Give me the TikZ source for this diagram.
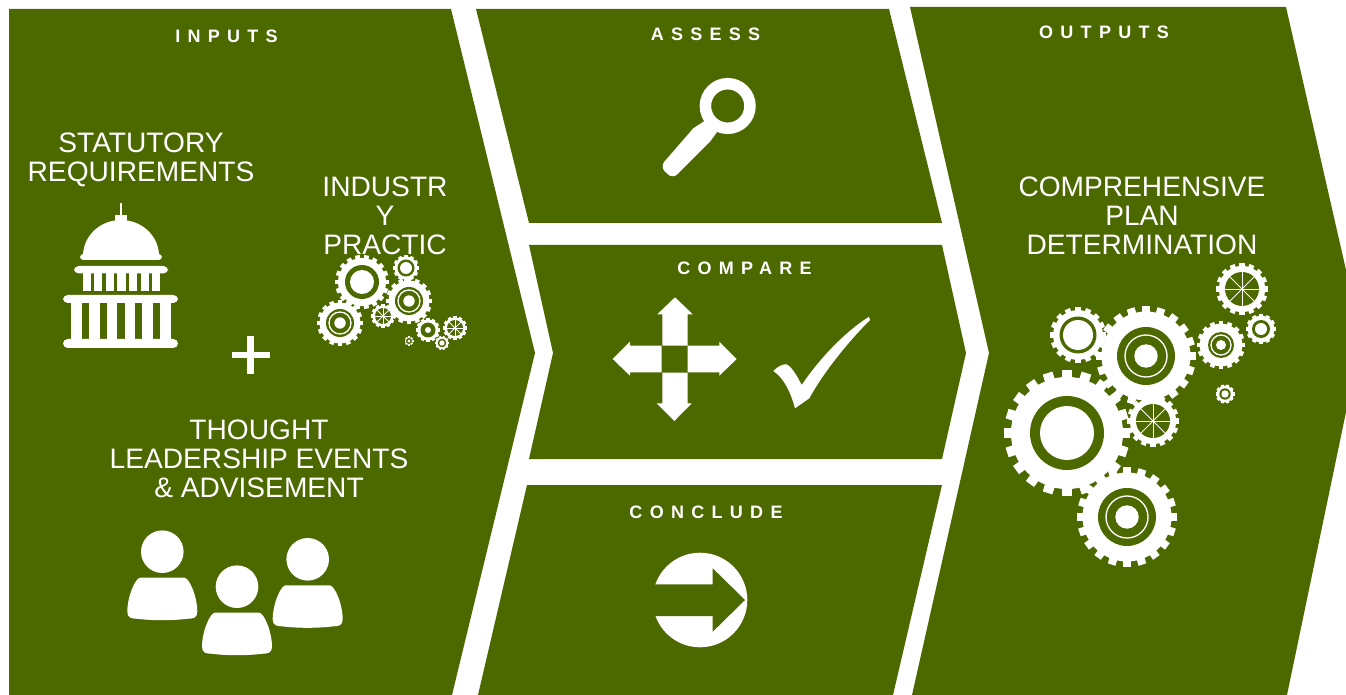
\documentclass[tikz,border=0pt]{standalone}
\usepackage{fontspec}
\setmainfont{Liberation Sans}
\newfontfamily\titlefont[LetterSpace=40.5]{Liberation Sans}
\definecolor{panelgreen}{HTML}{4C6900}
\tikzset{
  panel/.style={fill=panelgreen},
  icon/.style={fill=white},
  hole/.style={fill=panelgreen},
  heading/.style={text=white,inner sep=0pt,font=\titlefont\bfseries\fontsize{13.5}{16}\selectfont},
  bodytext/.style={text=white,inner sep=0pt,align=center,font=\fontsize{21.1}{21.75}\selectfont},
}
\begin{document}
\begin{tikzpicture}[x=0.75pt,y=-0.75pt]
\useasboundingbox (0,0) rectangle (1346,695);
\fill[panel] (9,9) -- (451,9) -- (535,353) -- (452,695) -- (9,695) -- cycle;
\fill[panel] (476,9) -- (889,9) -- (942,223) -- (529,223) -- cycle;
\fill[panel] (529,245) -- (942,245) -- (966,353) -- (942,459) -- (529,459) -- (553,353) -- cycle;
\fill[panel] (527,485) -- (942,485) -- (893,695) -- (478,695) -- cycle;
\fill[panel] (910,7) -- (1286,7) -- (1346,270) -- (1346,412) -- (1287,695) -- (912,695) -- (989,353) -- cycle;

\node[heading] (inputs) at (226.5,36) {INPUTS};
\node[heading] (assess) at (705.5,34) {ASSESS};
\node[heading] (compare) at (744.5,268) {COMPARE};
\node[heading] (conclude) at (706,512) {CONCLUDE};
\node[heading] (outputs) at (1104,32) {OUTPUTS};
\node[bodytext] (statutory) at (141,160) {STATUTORY\\REQUIREMENTS};
\node[bodytext] (industry) at (385,215.5) {INDUSTR\\Y\\PRACTIC};
\node[bodytext] (thought) at (259,459) {THOUGHT\\LEADERSHIP EVENTS\\\& ADVISEMENT};
\node[bodytext] (plan) at (1142,215.5) {COMPREHENSIVE\\PLAN\\DETERMINATION};

\foreach \gx/\gy/\rout/\nteeth/\rhole in {
  1067/433/63/20/37, 1146/356/50/20/29, 1078/335/28/16/18.5, 1153/421/26/16/17,
  1127/517/50/20/29, 1242/289/26/16/17, 1221/345/24/16/13, 1261/329/15/12/9, 1225/394/9.5/10/5.7,
  362/282/27/18/17, 406/268/13/12/8.5, 409/301/23/16/14, 340/323/23/16/14, 383/316/12/12/8,
  428/330/12/12/7.5, 455/328/12/12/8, 442/343/7/10/4.3, 409/341/4.5/8/3}
{
  \pgfmathsetmacro\toothw{\rout*1.6/\nteeth}
  \fill[icon] (\gx,\gy) circle [radius=\rout*0.89];
  \foreach \i in {1,...,\nteeth}
    \fill[icon,shift={(\gx,\gy)},rotate=\i*360/\nteeth] (\rout*0.8,-\toothw) rectangle (\rout,\toothw);
  \fill[hole] (\gx,\gy) circle [radius=\rhole];
}
\foreach \gx/\gy/\rring in {1146/356/21, 1127/517/21, 1221/345/10, 409/301/11, 340/323/11}
  \draw[white,line width=1pt] (\gx,\gy) circle [radius=\rring];
\foreach \gx/\gy/\rmid in {1067/433/27, 1146/356/11.7, 1078/335/15, 1127/517/11.7, 1221/345/5, 1261/329/6, 1225/394/3.7,
  362/282/12, 406/268/6, 409/301/5.7, 340/323/5.7, 428/330/3, 442/343/2.7, 409/341/1.7}
  \fill[icon] (\gx,\gy) circle [radius=\rmid];
\foreach \gx/\gy/\rhole in {1153/421/17, 1242/289/17, 383/316/8, 455/328/8}
  \foreach \a in {0,45,...,315}
    \draw[white,line width=0.7pt] (\gx,\gy) -- ++(\a:\rhole);

\fill[icon] (119.8,203) rectangle (121.8,216);
\fill[icon] (115,215) rectangle (127,221);
\fill[icon] (83,256) arc[start angle=180,end angle=0,x radius=38,y radius=-36] -- cycle;
\fill[icon,rounded corners=2.5] (80,254) rectangle (162,260);
\fill[icon,rounded corners=3.5] (74,266) rectangle (168,273.5);
\foreach \cx/\cw in {82.5/8.3, 94.2/8, 105.7/8.3, 117.3/8.2, 129/8.2, 140.6/8.2, 152/8.3}
  \fill[icon] (\cx,273) rectangle (\cx+\cw,291);
\fill[icon,rounded corners=3.5] (63,295) rectangle (178,303);
\foreach \cx/\cw in {71/10.7, 89/11, 106.7/10.6, 124.7/10.6, 142.3/11, 160/10.7}
  \fill[icon] (\cx,303) rectangle (\cx+\cw,340);
\fill[icon,rounded corners=3.5] (63,339) rectangle (178,348);
\fill[icon] (247.3,336) rectangle (254,374);
\fill[icon] (232,351.7) rectangle (270,358.3);

\foreach \hx/\hy in {162.3/551.7, 237/586.7, 307.7/559.3}
{
  \fill[icon] (\hx,\hy) circle [radius=21.3];
  \fill[icon,shift={(\hx,\hy)}] (-22,26) -- (22,26) .. controls (27,26) and (35,45) .. (35,60)
    .. controls (35,66) and (31,67) .. (26,67) .. controls (10,69) and (-10,69) .. (-26,67)
    .. controls (-31,67) and (-35,66) .. (-35,60) .. controls (-35,45) and (-27,26) .. (-22,26) -- cycle;
}

\draw[white,line width=8.6pt] (727.7,106) circle [radius=22.3];
\fill[icon] (706,120) -- (717,132) -- (710,141.7) [rounded corners=5] -- (672.7,179) -- (660,166.7) [sharp corners] -- (693.3,128.3) -- cycle;

\fill[icon] (675,297.3) -- (692.7,314.3) -- (687.7,314.3) -- (687.7,345.7) -- (662.3,345.7) -- (662.3,314.3) -- (657.3,314.3) -- cycle;
\fill[icon] (674.3,421) -- (691.7,403.3) -- (687.7,403.3) -- (687.7,372.7) -- (662.3,372.7) -- (662.3,403.3) -- (656.7,403.3) -- cycle;
\fill[icon] (612.7,359) -- (630,341.7) -- (630,345.7) -- (661.7,345.7) -- (661.7,372.3) -- (630,372.3) -- (630,375.7) -- cycle;
\fill[icon] (736.7,359) -- (719.3,341.7) -- (719.3,345.7) -- (687.7,345.7) -- (687.7,372.3) -- (719.3,372.3) -- (719.3,375.7) -- cycle;

\fill[icon] (773.3,371) .. controls (778,366) and (783,364) .. (786.7,364.3)
  .. controls (793,368) and (798,378) .. (801.7,385)
  .. controls (820,358) and (845,332) .. (869,316.7) -- (870,320)
  .. controls (845,345) and (822,375) .. (809.3,398.3) -- (795,408.3)
  .. controls (791,393) and (784,378) .. (773.3,371) -- cycle;

\fill[icon] (700,600) circle [radius=47.3];
\fill[hole] (650,584.3) -- (712.7,584.3) -- (712.7,568.3) -- (745,600) -- (712.7,631.7) -- (712.7,616) -- (650,616) -- cycle;
\end{tikzpicture}
\end{document}
